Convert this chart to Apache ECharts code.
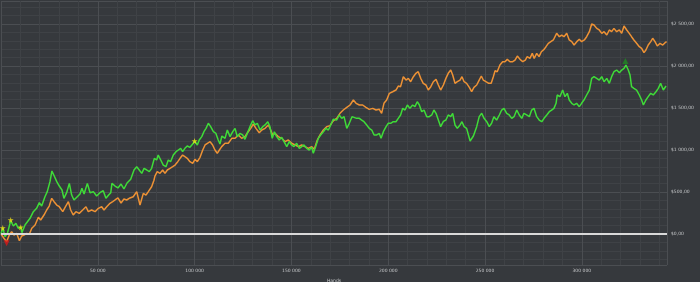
<!DOCTYPE html>
<html>
<head>
<meta charset="utf-8">
<script src="https://cdn.jsdelivr.net/npm/echarts@6/dist/echarts.min.js"></script>
<style>
html,body{margin:0;padding:0;background:#36393d;}
#c{width:700px;height:282px;}
</style>
</head>
<body>
<div id="c"></div>
<script>
// Hands in thousands
const greenHands = [0,0.9,2.1,3.3,5.0,6.4,7.7,8.9,10.2,10.8,12.4,15.0,16.7,18.4,19.8,21.0,22.7,23.9,25.3,26.3,27.5,28.8,30.1,31.5,32.5,33.9,35.3,36.5,37.7,39.4,40.8,41.8,42.9,44.6,46.0,47.7,49.4,51.1,52.8,54.2,55.6,56.7,57.3,58.9,60.4,62.0,63.5,65.1,67.0,68.7,70.1,71.4,72.7,73.9,75.3,76.6,77.8,79.2,80.4,81.2,82.5,83.8,85.2,86.4,87.6,89.0,90.4,91.6,92.8,93.8,95.0,96.2,97.6,99.0,100.0,101.4,102.4,103.7,104.8,105.9,107.1,108.3,109.7,111.0,112.2,113.1,114.1,115.7,116.9,118.3,119.7,120.9,122.0,123.4,124.8,126.0,127.2,128.6,130.0,131.2,132.4,133.8,135.2,136.4,137.8,138.9,140.1,141.2,142.4,143.7,145.0,146.2,147.6,148.9,150.1,151.3,152.7,154.1,155.3,156.5,157.9,159.2,160.5,161.3,162.5,163.9,165.1,166.5,167.9,169.1,170.3,171.6,173.4,174.7,176.0,177.2,178.6,179.9,181.3,182.3,183.7,185.1,186.3,187.5,188.9,190.2,191.5,192.7,194.1,195.4,196.3,197.5,198.9,200.0,201.3,202.6,204.0,205.2,206.4,207.5,208.7,209.9,211.2,212.6,213.8,215.0,216.1,217.3,218.5,219.9,221.2,222.5,223.6,224.7,225.9,227.1,228.5,229.8,231.0,232.3,233.3,234.5,235.7,237.1,238.1,239.2,240.5,242.3,244.0,245.7,247.0,248.3,249.5,250.9,252.2,253.4,254.6,256.0,257.4,258.6,259.8,261.2,262.5,263.8,265.0,266.4,267.7,269.0,270.1,271.5,272.9,274.1,275.3,276.7,278.0,279.3,280.5,281.9,283.2,284.4,285.6,286.7,287.3,288.7,290.1,291.3,292.5,293.5,294.8,296.0,297.3,298.7,299.9,301.1,302.5,303.9,305.1,306.3,307.7,309.0,310.3,311.5,312.9,314.2,315.4,316.6,318.0,319.4,320.6,321.8,322.8,324.0,324.9,325.7,326.9,328.3,329.7,330.9,331.8,333.1,334.3,335.6,336.9,338.3,339.5,340.7,342.1,343.5];
const greenWinnings = [0,71,-32,8,158,95,127,68,80,16,107,187,266,306,373,333,444,504,623,750,690,623,571,524,425,492,603,464,405,444,476,544,476,603,492,504,452,492,516,425,464,492,603,571,548,595,536,607,651,762,801,762,722,782,762,742,782,901,881,940,881,821,801,881,861,940,980,1000,1020,980,1020,1048,1032,1071,1107,1060,1119,1159,1218,1258,1318,1278,1218,1198,1119,1071,1167,1139,1238,1159,1218,1258,1159,1198,1179,1127,1198,1278,1349,1298,1318,1238,1278,1298,1337,1278,1139,1218,1159,1119,1151,1099,1040,1099,1060,1040,1080,1020,1040,1060,1020,1000,1032,961,1040,1139,1179,1218,1258,1238,1298,1367,1357,1417,1377,1397,1258,1318,1397,1417,1377,1377,1357,1337,1298,1258,1238,1179,1179,1198,1139,1218,1278,1318,1318,1337,1337,1377,1417,1496,1476,1536,1496,1536,1516,1575,1536,1456,1476,1397,1397,1417,1476,1437,1357,1278,1340,1357,1417,1397,1437,1298,1258,1298,1337,1278,1258,1107,1167,1278,1397,1437,1377,1337,1278,1318,1397,1357,1417,1476,1496,1437,1417,1377,1397,1476,1417,1377,1437,1417,1397,1476,1496,1397,1357,1337,1377,1417,1456,1476,1496,1556,1655,1635,1714,1635,1675,1595,1556,1536,1556,1516,1556,1595,1655,1714,1853,1873,1853,1833,1873,1813,1853,1794,1873,1932,1952,1920,1952,1972,2012,1952,1893,1754,1734,1714,1655,1595,1536,1595,1635,1675,1655,1694,1734,1794,1714,1762];

const orangeHands = [0,0.4,1.5,2.9,4.3,5.5,6.7,8.1,9.5,10.7,11.9,13.3,14.6,15.9,17.6,19.3,20.5,22.2,23.6,24.9,26.2,27.4,28.8,30.1,31.9,33.1,34.8,36.0,37.3,38.7,40.4,42.2,43.9,45.1,46.8,48.6,50.3,52.0,53.2,54.6,56.3,57.7,58.9,60.4,62.0,63.5,64.9,66.6,68.3,70.1,71.8,73.5,74.9,76.1,77.8,79.0,79.5,80.7,82.1,83.5,84.7,85.9,87.3,88.7,89.9,91.3,92.5,93.8,95.0,96.2,97.6,99.0,100.2,101.4,102.8,104.2,105.4,106.6,108.0,109.3,110.5,111.7,112.8,114.0,115.7,117.4,119.2,120.9,122.6,124.3,126.0,127.7,129.0,130.3,131.7,133.4,134.7,136.4,138.1,139.3,140.3,141.5,143.2,145.0,146.7,148.4,150.1,151.9,153.6,155.3,157.0,158.7,160.5,161.8,163.4,164.8,166.5,168.2,169.9,171.6,173.4,175.1,176.8,178.6,180.3,182.0,183.4,185.1,186.8,188.5,190.2,192.0,193.7,195.4,196.6,197.8,199.2,200.6,202.3,204.0,205.2,206.4,207.8,209.2,210.4,211.6,213.0,214.3,215.5,216.8,218.1,219.5,220.7,222.0,223.3,224.7,225.9,227.1,228.5,229.8,231.0,232.3,233.3,234.5,235.7,237.1,238.1,239.2,240.5,241.9,243.1,244.3,245.7,247.0,248.1,249.1,250.5,251.9,253.2,254.3,255.2,256.3,257.7,259.1,260.3,261.5,262.9,264.3,265.5,266.7,268.1,269.5,270.8,271.8,273.2,274.4,275.4,276.7,277.9,279.1,280.5,281.5,282.7,284.0,285.3,287.0,288.4,289.6,290.8,292.2,293.5,294.8,296.0,297.4,298.7,299.9,301.3,302.5,303.9,305.1,306.3,307.7,309.0,310.3,311.5,312.9,314.2,315.4,316.6,318.0,319.4,320.6,321.8,323.2,324.5,325.7,326.9,328.3,329.7,330.9,332.1,333.1,334.3,335.6,336.6,337.8,339.0,340.4,341.8,343.0,343.8];
const orangeWinnings = [0,8,-51,-91,-12,28,-12,8,-80,-24,-12,8,-4,68,107,199,167,226,286,333,425,385,345,325,266,317,385,286,226,266,246,286,325,266,286,266,306,325,286,325,365,385,405,429,369,417,405,429,444,504,345,484,464,504,563,640,690,742,722,762,722,762,782,801,821,861,901,940,920,901,861,841,889,861,913,1000,1060,1080,1099,1060,1000,961,1000,1040,1080,1080,1139,1139,1179,1139,1159,1218,1258,1309,1258,1206,1238,1258,1298,1238,1179,1198,1159,1139,1099,1119,1080,1060,1040,1060,1040,1020,1040,1008,1119,1179,1238,1278,1290,1347,1377,1437,1476,1508,1536,1595,1556,1536,1536,1508,1484,1496,1476,1484,1437,1556,1595,1675,1694,1714,1762,1754,1873,1833,1853,1813,1873,1913,1932,1853,1794,1774,1714,1754,1813,1841,1774,1714,1774,1853,1913,1952,1893,1794,1813,1833,1873,1813,1794,1746,1694,1746,1774,1833,1881,1833,1813,1794,1794,1873,1944,1932,2012,2051,2051,2079,2051,2051,2071,2119,2079,2051,2071,2111,2091,2151,2091,2151,2111,2170,2198,2230,2270,2290,2310,2389,2349,2369,2349,2389,2310,2290,2250,2290,2318,2290,2310,2349,2409,2500,2488,2448,2429,2389,2409,2369,2429,2409,2448,2409,2429,2389,2476,2429,2389,2349,2310,2270,2230,2210,2159,2190,2250,2290,2330,2290,2238,2270,2250,2278,2290];

const starHands = [0.9, 5.0, 10.2, 100.0];
const starWinnings = [71, 167, 80, 1107];
const lowHands = [2.9];
const lowWinnings = [-110];
const highHands = [322.5];
const highWinnings = [2060];

const xMin = 0, xMax = 344000;
const yMin = -369, yMax = 2774;

function group(n){ return String(Math.round(n)).replace(/\B(?=(\d{3})+(?!\d))/g, ' '); }
function pairs(h, w){ return h.map((k,i)=>[k*1000, w[i]]); }

const STAR = 'path://M50,0 L61,35 L98,35 L68,57 L79,91 L50,70 L21,91 L32,57 L2,35 L39,35 Z';
const labelColor = '#c4c6c8';

const chart = echarts.init(document.getElementById('c'), null, {renderer:'canvas'});
chart.setOption({
  backgroundColor: '#36393d',
  animation: false,
  grid: {left: 1, right: 33, top: 1, bottom: 17, containLabel: false, outerBoundsMode: 'none'},
  xAxis: {
    type: 'value', min: xMin, max: xMax,
    name: 'Hands', nameLocation: 'middle', nameGap: 12,
    nameTextStyle: {color: labelColor, fontSize: 4.5, fontFamily: 'DejaVu Sans'},
    axisLine: {show: false}, axisTick: {show: false},
    axisLabel: {color: labelColor, fontSize: 4.5, fontFamily: 'DejaVu Sans', margin: 3,
      showMinLabel: false, showMaxLabel: false, formatter: v => group(v)},
    splitLine: {show: true, lineStyle: {color: '#4b4e52', width: 1}},
    minorTick: {show: false, splitNumber: 5},
    minorSplitLine: {show: true, lineStyle: {color: '#3f4246', width: 1}}
  },
  yAxis: {
    type: 'value', position: 'right', min: yMin, max: yMax,
    name: 'Winnings', nameLocation: 'middle', nameGap: 27, nameRotate: -90,
    nameTextStyle: {color: labelColor, fontSize: 4.5, fontFamily: 'DejaVu Sans'},
    axisLine: {show: false}, axisTick: {show: false},
    axisLabel: {color: labelColor, fontSize: 4.5, fontFamily: 'DejaVu Sans', margin: 4,
      showMinLabel: false, showMaxLabel: false, formatter: v => '$' + group(v) + ',00'},
    splitLine: {show: true, lineStyle: {color: '#4b4e52', width: 1}},
    minorTick: {show: false, splitNumber: 5},
    minorSplitLine: {show: true, lineStyle: {color: '#3f4246', width: 1}}
  },
  series: [
    {
      type: 'line', name: 'All-in EV', data: pairs(orangeHands, orangeWinnings),
      showSymbol: false, lineStyle: {color: '#ee9235', width: 1.5}, itemStyle: {color: '#ee9235'},
      z: 3,
      markLine: {silent: true, symbol: ['none','none'], label: {show: false},
        lineStyle: {color: '#d9d9d9', width: 2, type: 'solid'}, data: [{yAxis: 0}]}
    },
    {
      type: 'line', name: 'Net won', data: pairs(greenHands, greenWinnings),
      showSymbol: false, lineStyle: {color: '#3fdc38', width: 1.5}, itemStyle: {color: '#3fdc38'},
      z: 4
    },
    {
      type: 'scatter', data: pairs(starHands, starWinnings), symbol: STAR, symbolSize: 6,
      itemStyle: {color: '#f4e514'}, z: 6
    },
    {
      type: 'scatter', data: pairs(lowHands, lowWinnings), symbol: 'triangle', symbolRotate: 180, symbolSize: 6,
      itemStyle: {color: '#d81818'}, z: 6
    },
    {
      type: 'scatter', data: pairs(highHands, highWinnings), symbol: 'triangle', symbolSize: 6,
      itemStyle: {color: '#1f8a22'}, z: 6
    }
  ]
});
</script>
</body>
</html>
